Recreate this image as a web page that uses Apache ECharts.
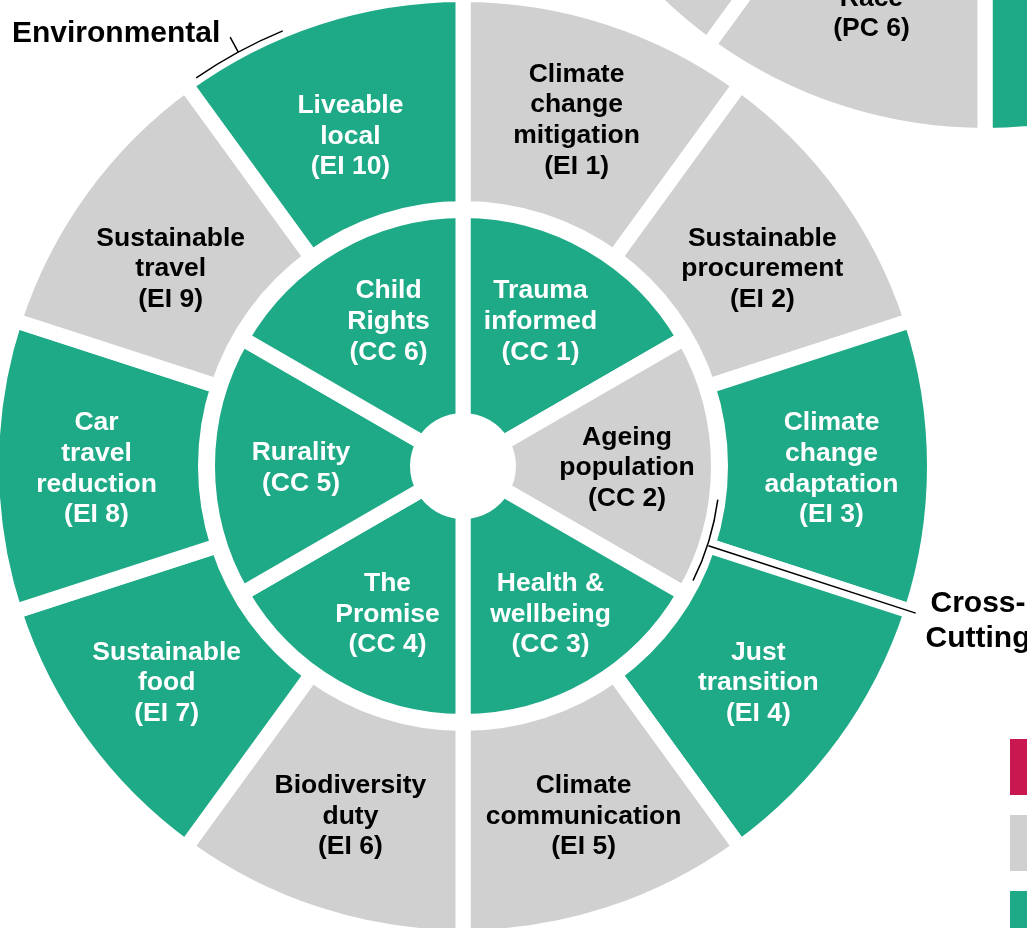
<!DOCTYPE html>
<html>
<head>
<meta charset="utf-8">
<script src="https://cdn.jsdelivr.net/npm/echarts@6/dist/echarts.min.js"></script>
<style>
html, body { margin: 0; padding: 0; background: #fff; }
#main { width: 1027px; height: 928px; }
</style>
</head>
<body>
<div id="main"></div>
<script>
// outer ring: environmental impacts
var eiCodes = ["EI 1", "EI 2", "EI 3", "EI 4", "EI 5", "EI 6", "EI 7", "EI 8", "EI 9", "EI 10"];
var eiTitles = ["Climate\nchange\nmitigation", "Sustainable\nprocurement", "Climate\nchange\nadaptation",
	"Just\ntransition", "Climate\ncommunication", "Biodiversity\nduty", "Sustainable\nfood",
	"Car\ntravel\nreduction", "Sustainable\ntravel", "Liveable\nlocal"];
var eiStatus = [2, 2, 1, 1, 2, 2, 1, 1, 2, 1];

// inner ring: cross-cutting
var ccCodes = ["CC 1", "CC 2", "CC 3", "CC 4", "CC 5", "CC 6"];
var ccTitles = ["Trauma\ninformed", "Ageing\npopulation", "Health &\nwellbeing", "The\nPromise", "Rurality", "Child\nRights"];
var ccStatus = [1, 2, 1, 1, 1, 1];

// neighbouring wheel, only partly in view
var pcCodes = ["PC 1", "PC 2", "PC 3", "PC 4", "PC 5", "PC 6", "PC 7", "PC 8", "PC 9", "PC 10"];
var pcTitles = ["", "", "", "", "", "Race", "", "", "", ""];
var pcStatus = [2, 1, 2, 1, 1, 2, 2, 1, 2, 1];

// legend swatches (text is outside the picture)
var legendStatus = [3, 2, 1];

var colors = { 1: "#1EAA86", 2: "#D0D0D0", 3: "#C8184F" };

var CX = 463, CY = 466, GAP = 15;
var R0 = 53, R1 = 248, R2 = 265, R3 = 464;

function polar(r, deg) {
	var a = deg * Math.PI / 180;
	return [CX + r * Math.sin(a), CY - r * Math.cos(a)];
}
function rad(deg) {
	return (deg - 90) * Math.PI / 180;
}

function ringData(codes, status) {
	return codes.map(function(c, i) {
		return {
			name : c,
			value : 1,
			itemStyle : { color : colors[status[i]] },
			label : { color : status[i] === 2 ? "#000" : "#fff" }
		};
	});
}
function fmt(titles) {
	return function(p) {
		var t = titles[p.dataIndex];
		return t ? t + "\n(" + p.name + ")" : "(" + p.name + ")";
	};
}
// hand placement of a few labels, as in the original slide
function nudge(map) {
	return function(p) {
		var d = map[p.dataIndex] || [0, 0];
		return { dx : d[0], dy : d[1] };
	};
}

var labelFont = {
	show : true,
	position : "inside",
	fontFamily : "Liberation Sans, Arial, sans-serif",
	fontWeight : "bold",
	fontSize : 26.5,
	lineHeight : 30.6
};

var chart = echarts.init(document.getElementById("main"));
var lineStyle = { stroke : "#000", lineWidth : 1.5, fill : null };
var p1 = polar(471, 331.5), p2 = polar(488, 331.5);
var q1 = polar(258, 108), q2 = polar(476, 108);

chart.setOption({
	animation : false,
	series : [ {
		type : "pie",
		silent : true,
		center : [ 985, -336 ],
		radius : [ R2 - GAP / 2, R3 + GAP / 2 ],
		startAngle : 90,
		avoidLabelOverlap : false,
		itemStyle : { borderColor : "#fff", borderWidth : GAP },
		label : Object.assign({ formatter : fmt(pcTitles) }, labelFont),
		labelLine : { show : false },
		data : ringData(pcCodes, pcStatus)
	}, {
		type : "pie",
		silent : true,
		center : [ CX, CY ],
		radius : [ R2 - GAP / 2, R3 + GAP / 2 ],
		startAngle : 90,
		avoidLabelOverlap : false,
		itemStyle : { borderColor : "#fff", borderWidth : GAP },
		label : Object.assign({ formatter : fmt(eiTitles) }, labelFont),
		labelLine : { show : false },
		labelLayout : nudge({ 0 : [0, 4], 1 : [2, 19], 2 : [1, 3], 3 : [-2, 1], 4 : [7, 1],
			5 : [1, 1], 6 : [1, 1], 7 : [1, 3], 8 : [5, 19], 9 : [1, 20] }),
		data : ringData(eiCodes, eiStatus)
	}, {
		type : "pie",
		silent : true,
		center : [ CX, CY ],
		radius : [ R0 - GAP / 2, R1 + GAP / 2 ],
		startAngle : 90,
		itemStyle : { borderColor : "#fff", borderWidth : GAP },
		label : { show : false },
		labelLine : { show : false },
		data : ringData(ccCodes, ccStatus)
	}, {
		// label carrier for the inner ring
		type : "pie",
		silent : true,
		center : [ CX, CY ],
		radius : [ 80, 252 ],
		startAngle : 90,
		avoidLabelOverlap : false,
		itemStyle : { color : "transparent", borderWidth : 0 },
		label : Object.assign({ formatter : fmt(ccTitles) }, labelFont),
		labelLine : { show : false },
		labelLayout : nudge({ 0 : [-7, 2], 1 : [-5, 2], 2 : [3, 2], 3 : [9, 2], 4 : [7, 2], 5 : [10, 2] }),
		data : ringData(ccCodes, ccStatus).map(function(d) {
			d.itemStyle = { color : "transparent" };
			return d;
		})
	} ],
	graphic : [ {
		type : "text",
		z : 100,
		left : 12,
		top : 19,
		style : {
			text : "Environmental",
			font : "bold 30px Liberation Sans, Arial, sans-serif",
			fill : "#000"
		}
	}, {
		type : "arc",
		z : 100,
		shape : { cx : CX, cy : CY, r : 471, startAngle : rad(325.5), endAngle : rad(337.5) },
		style : lineStyle
	}, {
		type : "line",
		z : 100,
		shape : { x1 : p1[0], y1 : p1[1], x2 : p2[0], y2 : p2[1] },
		style : lineStyle
	}, {
		type : "arc",
		z : 100,
		shape : { cx : CX, cy : CY, r : 257, startAngle : rad(97.5), endAngle : rad(116.5) },
		style : lineStyle
	}, {
		type : "line",
		z : 100,
		shape : { x1 : q1[0], y1 : q1[1], x2 : q2[0], y2 : q2[1] },
		style : lineStyle
	}, {
		type : "text",
		z : 100,
		x : 978,
		y : 621,
		style : {
			text : "Cross-\nCutting",
			font : "bold 30px Liberation Sans, Arial, sans-serif",
			lineHeight : 35,
			align : "center",
			verticalAlign : "middle",
			fill : "#000"
		}
	} ].concat(legendStatus.map(function(s, i) {
		return {
			type : "rect",
			z : 100,
			shape : { x : 1010, y : 739 + i * 76, width : 30, height : 56 },
			style : { fill : colors[s] }
		};
	}))
});
</script>
</body>
</html>
